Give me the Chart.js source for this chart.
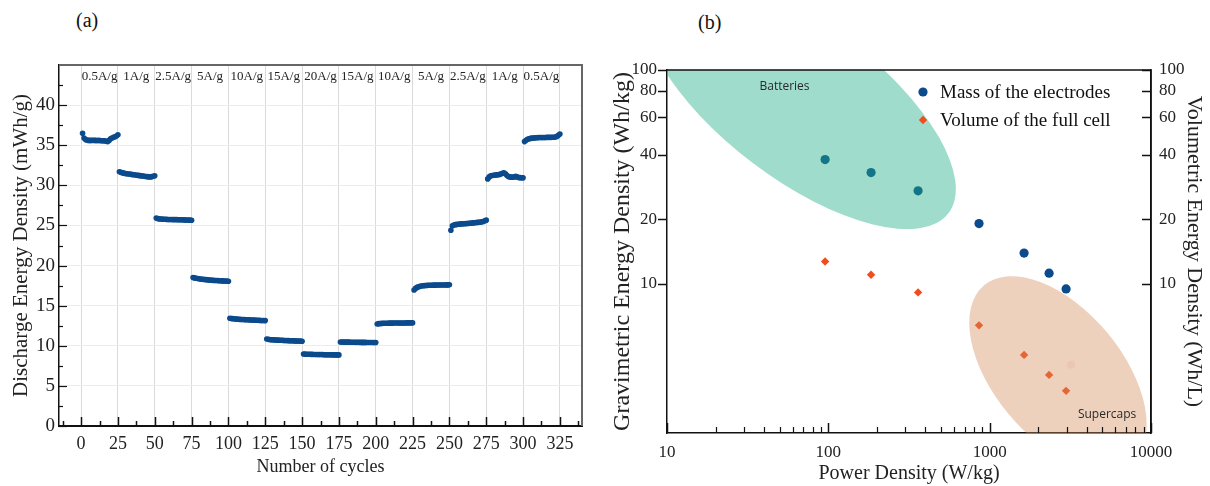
<!DOCTYPE html>
<html>
<head>
<meta charset="utf-8">
<script src="https://cdn.jsdelivr.net/npm/chart.js@4.4.1/dist/chart.umd.min.js"></script>
<style>
  body { margin: 0; background: #fff; width: 1210px; height: 486px; position: relative; overflow: hidden; }
  canvas { position: absolute; top: 0; }
  #rate { left: 0; }
  #ragone { left: 600px; }
  .tag { position: absolute; font: 20px "Liberation Serif", serif; color: #111; }
</style>
</head>
<body>
<div class="tag" style="left:76px; top:9px;">(a)</div>
<div class="tag" style="left:698px; top:11px;">(b)</div>
<canvas id="rate" width="600" height="486"></canvas>
<canvas id="ragone" width="610" height="486"></canvas>
<script>
const serif = '"Liberation Serif", "Times New Roman", serif';

// ---- (a) rate capability ----
const rateLabels = ['0.5A/g', '1A/g', '2.5A/g', '5A/g', '10A/g', '15A/g', '20A/g',
                    '15A/g', '10A/g', '5A/g', '2.5A/g', '1A/g', '0.5A/g'];
const cycleTicks = [0, 25, 50, 75, 100, 125, 150, 175, 200, 225, 250, 275, 300, 325];
const energyTicks = [0, 5, 10, 15, 20, 25, 30, 35, 40];

// discharge energy density (mWh/g), cycles 1..325, 25 cycles per rate
const energyDensity = [
  36.5, 35.9, 35.7, 35.65, 35.6, 35.6, 35.6, 35.62, 35.6, 35.6, 35.58, 35.6, 35.58, 35.56, 35.55, 35.55, 35.5, 35.45, 35.6, 35.8, 35.9, 36.0, 36.05, 36.15, 36.3,
  31.7, 31.62, 31.56, 31.52, 31.48, 31.45, 31.42, 31.4, 31.37, 31.34, 31.32, 31.29, 31.26, 31.24, 31.21, 31.18, 31.16, 31.13, 31.1, 31.08, 31.06, 31.05, 31.08, 31.14, 31.2,
  25.92, 25.85, 25.82, 25.8, 25.79, 25.78, 25.77, 25.76, 25.75, 25.75, 25.74, 25.73, 25.73, 25.72, 25.72, 25.71, 25.7, 25.7, 25.7, 25.69, 25.68, 25.68, 25.67, 25.66, 25.65,
  18.52, 18.46, 18.42, 18.38, 18.35, 18.32, 18.3, 18.28, 18.26, 18.24, 18.22, 18.2, 18.18, 18.17, 18.15, 18.14, 18.13, 18.12, 18.11, 18.1, 18.09, 18.08, 18.07, 18.06, 18.05,
  13.43, 13.4, 13.38, 13.36, 13.34, 13.32, 13.3, 13.29, 13.28, 13.27, 13.26, 13.25, 13.24, 13.23, 13.22, 13.21, 13.2, 13.2, 13.19, 13.18, 13.17, 13.16, 13.16, 13.15, 13.14,
  10.84, 10.8, 10.78, 10.76, 10.75, 10.74, 10.72, 10.71, 10.7, 10.69, 10.68, 10.67, 10.66, 10.66, 10.65, 10.64, 10.63, 10.62, 10.62, 10.61, 10.6, 10.6, 10.59, 10.58, 10.57,
  8.98, 8.96, 8.95, 8.94, 8.94, 8.93, 8.93, 8.92, 8.92, 8.91, 8.91, 8.9, 8.9, 8.9, 8.89, 8.89, 8.88, 8.88, 8.88, 8.87, 8.87, 8.87, 8.86, 8.86, 8.86,
  10.48, 10.47, 10.46, 10.46, 10.45, 10.45, 10.45, 10.44, 10.44, 10.44, 10.43, 10.43, 10.43, 10.43, 10.42, 10.42, 10.42, 10.42, 10.41, 10.41, 10.41, 10.41, 10.41, 10.4, 10.4,
  12.72, 12.76, 12.78, 12.79, 12.8, 12.8, 12.81, 12.81, 12.82, 12.82, 12.82, 12.83, 12.83, 12.83, 12.83, 12.84, 12.84, 12.84, 12.84, 12.84, 12.85, 12.85, 12.85, 12.85, 12.85,
  16.96, 17.15, 17.28, 17.36, 17.41, 17.45, 17.48, 17.5, 17.52, 17.53, 17.54, 17.55, 17.55, 17.56, 17.56, 17.57, 17.57, 17.57, 17.58, 17.58, 17.58, 17.58, 17.59, 17.59, 17.6,
  24.4, 24.95, 25.05, 25.1, 25.13, 25.15, 25.17, 25.19, 25.2, 25.21, 25.23, 25.25, 25.26, 25.28, 25.3, 25.32, 25.34, 25.36, 25.38, 25.4, 25.42, 25.45, 25.5, 25.58, 25.66,
  30.8, 31.05, 31.2, 31.22, 31.25, 31.28, 31.3, 31.32, 31.36, 31.4, 31.5, 31.55, 31.45, 31.25, 31.1, 31.05, 31.02, 31.0, 31.05, 31.12, 31.05, 30.98, 30.96, 30.95, 30.93,
  35.45, 35.62, 35.75, 35.8, 35.85, 35.88, 35.9, 35.92, 35.94, 35.95, 35.96, 35.96, 35.97, 35.97, 35.97, 35.98, 35.98, 35.98, 35.98, 35.99, 36.0, 36.02, 36.1, 36.25, 36.4
];

// ---- (b) Ragone plot ----
const powerDensity = [95.5, 184, 360, 859, 1634, 2335, 2976];      // W/kg
const gravimetricEnergy = [38.1, 33.1, 27.2, 19.1, 13.9, 11.2, 9.45]; // Wh/kg
const volumetricEnergy = [12.7, 11.0, 9.1, 6.38, 4.64, 3.74, 3.15];  // Wh/L
const strayPower = [3200];
const strayEnergy = [4.17];
const powerTicks = [10, 100, 1000, 10000];
const ragoneTicks = [10, 20, 40, 60, 80, 100];
const regionNames = ['Batteries', 'Supercaps'];
const regionCenters = [[66.8, 71.6], [2650, 3.8]];
const regionLabelAt = [[53.5, 83.6], [5346, 2.44]];


const tickMarks = {
  id: 'tickMarks',
  afterDraw(chart, args, opts) {
    const ctx = chart.ctx;
    ctx.save();
    ctx.strokeStyle = opts.color;
    opts.marks.forEach(m => {
      const s = chart.scales[m.scale];
      ctx.lineWidth = m.width;
      m.values.forEach(v => {
        const p = Math.round(s.getPixelForValue(v)) + 0.5;
        ctx.beginPath();
        if (s.isHorizontal()) {
          ctx.moveTo(p, s.top);
          ctx.lineTo(p, s.top + m.len);
        } else {
          const x0 = s.position === 'left' ? s.right : s.left;
          ctx.moveTo(x0, p);
          ctx.lineTo(x0 + m.len, p);
        }
        ctx.stroke();
      });
    });
    ctx.restore();
  }
};

const frame = {
  id: 'frame',
  afterDraw(chart, args, opts) {
    const {ctx, chartArea: a} = chart;
    ctx.save();
    ctx.strokeStyle = opts.color;
    ctx.lineWidth = opts.width;
    ctx.beginPath();
    ctx.moveTo(a.left, a.top);
    ctx.lineTo(a.right, a.top);
    ctx.lineTo(a.right, a.bottom);
    ctx.stroke();
    ctx.restore();
  }
};

const rateText = {
  id: 'rateText',
  afterDraw(chart) {
    const {ctx, chartArea, scales: {x}} = chart;
    ctx.save();
    ctx.font = '13px ' + serif;
    ctx.fillStyle = '#222';
    ctx.textAlign = 'center';
    ctx.textBaseline = 'middle';
    rateLabels.forEach((t, i) => {
      ctx.fillText(t, x.getPixelForValue(cycleTicks[i] + 12.5), chartArea.top + 12);
    });
    ctx.restore();
  }
};

function minorLinear(from, to, step) {
  const out = [];
  for (let v = from; v <= to; v += step) out.push(v);
  return out;
}

function minorLog(lo, hi) {
  const out = [];
  for (let d = lo; d < hi; d *= 10) {
    for (let k = 2; k <= 9; k++) out.push(d * k);
  }
  return out;
}

new Chart(document.getElementById('rate'), {
  type: 'scatter',
  data: {
    datasets: [{
      data: energyDensity.map((v, i) => ({x: i + 1, y: v})),
      backgroundColor: '#0b4a8c',
      borderWidth: 0,
      pointRadius: 2.8,
      pointHoverRadius: 2.8
    }]
  },
  options: {
    responsive: false,
    animation: false,
    devicePixelRatio: 1,
    layout: { padding: { left: 0, right: 18, top: 65, bottom: 0 } },
    plugins: {
      legend: { display: false },
      tooltip: { enabled: false },
      tickMarks: {
        color: '#111',
        marks: [
          { scale: 'x', values: cycleTicks, len: -9, width: 1.5 },
          { scale: 'x', values: minorLinear(-12.5, 337.5, 25), len: -5, width: 1.5 },
          { scale: 'y', values: energyTicks, len: 8, width: 1.2 },
          { scale: 'y', values: minorLinear(2.5, 42.5, 5), len: 4, width: 1.2 }
        ]
      },
      frame: { color: '#666', width: 2 }
    },
    scales: {
      x: {
        type: 'linear', min: -15, max: 340,
        afterBuildTicks: s => { s.ticks = cycleTicks.map(v => ({value: v})); },
        afterFit: s => { s.height = 60; },
        grid: { color: '#dadada', lineWidth: 1, drawTicks: false },
        border: { color: '#111', width: 2 },
        ticks: { font: { family: serif, size: 18 }, color: '#222', padding: 7, maxRotation: 0, autoSkip: false },
        title: { display: true, text: 'Number of cycles', color: '#222',
                 font: { family: serif, size: 18 }, padding: { top: 0, bottom: 8 } }
      },
      y: {
        min: 0, max: 45,
        afterBuildTicks: s => { s.ticks = energyTicks.map(v => ({value: v})); },
        afterFit: s => { s.width = 59; },
        grid: { color: '#ececec', lineWidth: 1, drawTicks: false },
        border: { color: '#111', width: 1.5 },
        ticks: { font: { family: serif, size: 19 }, color: '#222', padding: 4, autoSkip: false },
        title: { display: true, text: 'Discharge Energy Density (mWh/g)', color: '#222',
                 font: { family: serif, size: 21 }, padding: { top: 9, bottom: 0 } }
      }
    }
  },
  plugins: [tickMarks, frame, rateText]
});


const regions = {
  id: 'regions',
  afterDatasetsDraw(chart, args, opts) {
    const {ctx, chartArea: a, scales: {x, y}} = chart;
    ctx.save();
    ctx.beginPath();
    ctx.rect(a.left, a.top, a.width, a.height);
    ctx.clip();
    regionNames.forEach((name, i) => {
      const st = opts.shapes[i];
      ctx.beginPath();
      ctx.ellipse(x.getPixelForValue(regionCenters[i][0]), y.getPixelForValue(regionCenters[i][1]),
                  st.rx, st.ry, st.angle * Math.PI / 180, 0, 2 * Math.PI);
      ctx.fillStyle = st.color;
      ctx.fill();
    });
    ctx.font = '12px "Open Sans", sans-serif';
    ctx.fillStyle = '#2a2a2a';
    ctx.textAlign = 'center';
    ctx.textBaseline = 'middle';
    regionNames.forEach((name, i) => {
      ctx.fillText(name, x.getPixelForValue(regionLabelAt[i][0]), y.getPixelForValue(regionLabelAt[i][1]));
    });
    ctx.restore();
  }
};

const innerLegend = {
  id: 'innerLegend',
  afterDraw(chart, args, opts) {
    const {ctx, chartArea: a} = chart;
    ctx.save();
    ctx.font = opts.font;
    ctx.textBaseline = 'middle';
    ctx.fillStyle = '#111';
    chart.data.datasets.filter(d => d.label).forEach((d, i) => {
      const mx = a.left + opts.left;
      const my = a.top + opts.top + i * opts.gap;
      ctx.fillStyle = d.backgroundColor;
      ctx.beginPath();
      if (d.pointStyle === 'rectRot') {
        const r = d.pointRadius;
        ctx.moveTo(mx, my - r); ctx.lineTo(mx + r, my); ctx.lineTo(mx, my + r); ctx.lineTo(mx - r, my);
        ctx.closePath();
      } else {
        ctx.arc(mx, my, d.pointRadius, 0, 2 * Math.PI);
      }
      ctx.fill();
      ctx.fillStyle = '#111';
      ctx.fillText(d.label, mx + 17, my + 1);
    });
    ctx.restore();
  }
};

new Chart(document.getElementById('ragone'), {
  type: 'scatter',
  data: {
    datasets: [
      {
        label: 'Mass of the electrodes',
        data: powerDensity.map((p, i) => ({x: p, y: gravimetricEnergy[i]})),
        backgroundColor: '#0b4a8c', borderWidth: 0,
        pointStyle: 'circle', pointRadius: 4.6, pointHoverRadius: 4.6,
        yAxisID: 'y'
      },
      {
        label: 'Volume of the full cell',
        data: powerDensity.map((p, i) => ({x: p, y: volumetricEnergy[i]})),
        backgroundColor: '#f24c1c', borderWidth: 0,
        pointStyle: 'rectRot', pointRadius: 4.2, pointHoverRadius: 4.2,
        yAxisID: 'y2'
      },
      {
        data: strayPower.map((p, i) => ({x: p, y: strayEnergy[i]})),
        backgroundColor: '#fbeef0', borderWidth: 0,
        pointStyle: 'circle', pointRadius: 4, pointHoverRadius: 4,
        yAxisID: 'y'
      }
    ]
  },
  options: {
    responsive: false,
    animation: false,
    devicePixelRatio: 1,
    layout: { padding: { left: 0, right: 0, top: 70, bottom: 0 } },
    plugins: {
      legend: { display: false },
      tooltip: { enabled: false },
      regions: {
        shapes: [
          { rx: 186, ry: 78, angle: 37, color: 'rgba(33,173,134,0.43)' },
          { rx: 115, ry: 64, angle: 50, color: 'rgba(210,140,90,0.4)' }
        ]
      },
      innerLegend: { left: 256, top: 22, gap: 28, font: '19px ' + serif },
      tickMarks: {
        color: '#111',
        marks: [
          { scale: 'x', values: powerTicks, len: -10, width: 1.5 },
          { scale: 'x', values: minorLog(10, 10000), len: -6, width: 1.2 },
          { scale: 'y', values: ragoneTicks, len: -9, width: 1.5 },
          { scale: 'y2', values: ragoneTicks, len: -9, width: 1.5 }
        ]
      },
      frame: { color: '#111', width: 1.5 }
    },
    scales: {
      x: {
        type: 'logarithmic', min: 10, max: 10000,
        afterBuildTicks: s => { s.ticks = powerTicks.map(v => ({value: v})); },
        afterFit: s => { s.height = 53; },
        grid: { display: false, drawTicks: false },
        border: { color: '#111', width: 1.5 },
        ticks: { font: { family: serif, size: 17 }, color: '#222', padding: 9, maxRotation: 0, autoSkip: false,
                 callback: v => String(v) },
        title: { display: true, text: 'Power Density (W/kg)', color: '#222',
                 font: { family: serif, size: 20 }, padding: { top: 0, bottom: 0 } }
      },
      y: {
        type: 'logarithmic', position: 'left', min: 2, max: 100,
        afterBuildTicks: s => { s.ticks = ragoneTicks.map(v => ({value: v})); },
        afterFit: s => { s.width = 67; },
        grid: { display: false, drawTicks: false },
        border: { color: '#111', width: 1.5 },
        ticks: { font: { family: serif, size: 17 }, color: '#222', padding: 10, autoSkip: false,
                 callback: v => String(v) },
        title: { display: true, text: 'Gravimetric Energy Density (Wh/kg)', color: '#222',
                 font: { family: serif, size: 24 }, padding: { top: 8, bottom: 0 } }
      },
      y2: {
        type: 'logarithmic', position: 'right', min: 2, max: 100,
        afterBuildTicks: s => { s.ticks = ragoneTicks.map(v => ({value: v})); },
        afterFit: s => { s.width = 59; },
        grid: { display: false, drawTicks: false },
        border: { color: '#111', width: 1.5 },
        ticks: { font: { family: serif, size: 17 }, color: '#222', padding: 8, autoSkip: false,
                 callback: v => String(v) },
        title: { display: true, text: 'Volumetric Energy Density (Wh/L)', color: '#222',
                 font: { family: serif, size: 22 }, padding: { top: 3, bottom: 0 } }
      }
    }
  },
  plugins: [regions, tickMarks, frame, innerLegend]
});
</script>
</body>
</html>
